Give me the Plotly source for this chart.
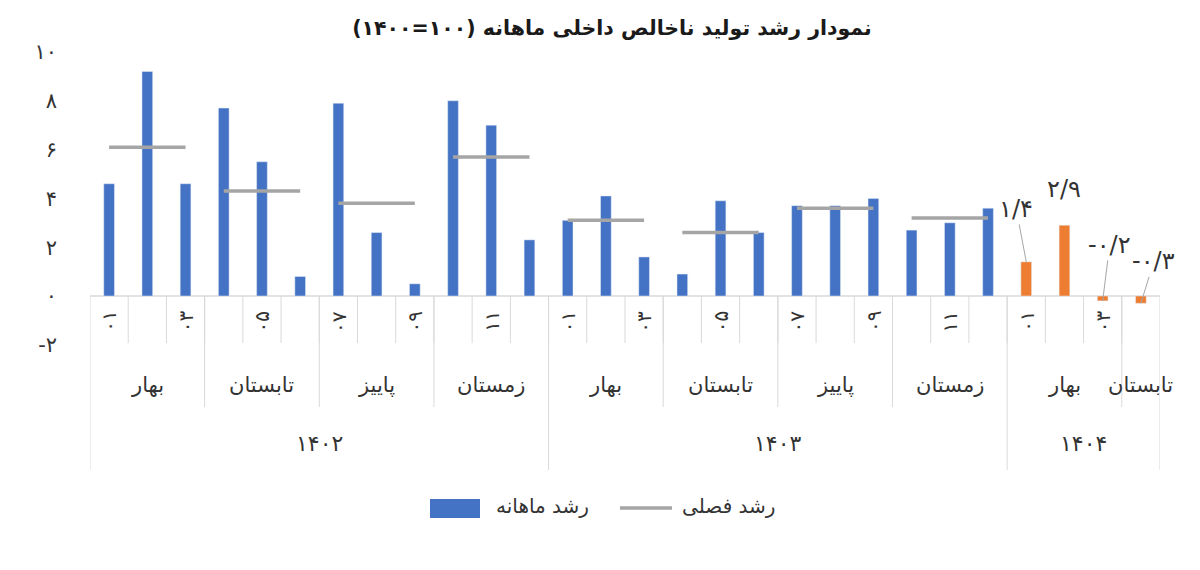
import plotly.graph_objects as go

# ---------------- data ----------------
years = ["۱۴۰۲", "۱۴۰۳", "۱۴۰۴"]
seasons = ["بهار", "تابستان", "پاییز", "زمستان"]
month_labels = ["۰۱", "۰۲", "۰۳", "۰۴", "۰۵", "۰۶", "۰۷", "۰۸", "۰۹", "۱۰", "۱۱", "۱۲"]

monthly_1402 = [4.6, 9.2, 4.6, 7.7, 5.5, 0.8, 7.9, 2.6, 0.5, 8.0, 7.0, 2.3]
monthly_1403 = [3.1, 4.1, 1.6, 0.9, 3.9, 2.6, 3.7, 3.7, 4.0, 2.7, 3.0, 3.6]
monthly_1404 = [1.4, 2.9, -0.2, -0.3]
monthly_1404_text = ["۱/۴", "۲/۹", "-۰/۲", "-۰/۳"]

seasonal_1402 = [6.1, 4.3, 3.8, 5.7]
seasonal_1403 = [3.1, 2.6, 3.6, 3.2]

y_ticks = [-2, 0, 2, 4, 6, 8, 10]
y_tick_text = ["-۲", "۰", "۲", "۴", "۶", "۸", "۱۰"]

title_text = "نمودار رشد تولید ناخالص داخلی ماهانه (۱۰۰=۱۴۰۰)"
name_monthly = "رشد ماهانه"
name_seasonal = "رشد فصلی"

# ---------------- styles / layout ----------------
BLUE = "#4472C4"
ORANGE = "#ED7D31"
GRAY = "#A5A5A5"
DIV = "#D9D9D9"
TXT = "#333333"
FONT = "DejaVu Sans"
W, H = 1192, 562          # page body has an 8px margin
ML, MR, MT, MB = 82, 40, 32, 100
Y_RANGE = [-7.13, 10.49]
MONTH_ROW_BOTTOM = -1.93
SEASON_ROW_BOTTOM = -4.55
MONTH_LABEL_Y = -1.05
SEASON_LABEL_Y = -3.63
YEAR_LABEL_Y = -6.04
label_offsets = [(-10, -53), None, (7, -56), (13, -42)]  # leader-line offsets (px)


def px_x(px):  # screenshot x pixel -> paper fraction
    return (px - 8 - ML) / (W - ML - MR)


def px_y(py):  # screenshot y pixel -> paper fraction
    return (H - MB - (py - 8)) / (H - MT - MB)


# ---------------- build category positions ----------------
year_monthly = [monthly_1402, monthly_1403, monthly_1404]
year_seasonal = [seasonal_1402, seasonal_1403, []]

records = []
x = 0
for yi, vals in enumerate(year_monthly):
    for mi, v in enumerate(vals):
        records.append((x, yi, mi, v))
        x += 1
n_total = x

fig = go.Figure()

bx = [r[0] for r in records if r[1] < 2]
by = [r[3] for r in records if r[1] < 2]
fig.add_trace(go.Bar(x=bx, y=by, name=name_monthly, marker_color=BLUE, width=0.28,
                     showlegend=False))

sx, sy = [], []
for yi, svals in enumerate(year_seasonal):
    base = sum(len(v) for v in year_monthly[:yi])
    for si, sv in enumerate(svals):
        sx += [base + 3 * si, base + 3 * si + 1, base + 3 * si + 2, None]
        sy += [sv, sv, sv, None]
fig.add_trace(go.Scatter(x=sx, y=sy, mode="lines", name=name_seasonal,
                         line=dict(color=GRAY, width=3.5), connectgaps=False,
                         showlegend=False))

ox = [r[0] for r in records if r[1] == 2]
oy = [r[3] for r in records if r[1] == 2]
fig.add_trace(go.Bar(x=ox, y=oy, marker_color=ORANGE, width=0.28, showlegend=False))

annotations = []
shapes = []

# data labels for 1404
for (xx, yy, txt, off) in zip(ox, oy, monthly_1404_text, label_offsets):
    if off is None:
        annotations.append(dict(x=xx, y=yy, xref="x", yref="y", text=txt, showarrow=False,
                                yshift=36, font=dict(size=24, color=TXT, family=FONT)))
    else:
        annotations.append(dict(x=xx, y=yy, xref="x", yref="y", text=txt, showarrow=True,
                                ax=off[0], ay=off[1], arrowhead=0, arrowwidth=1,
                                arrowcolor="#A6A6A6", standoff=0,
                                font=dict(size=24, color=TXT, family=FONT)))

# month labels (every other category)
for (xx, yi, mi, v) in records:
    if xx % 2 == 0:
        annotations.append(dict(x=xx, y=MONTH_LABEL_Y, xref="x", yref="y", text=month_labels[mi],
                                showarrow=False, textangle=-90,
                                font=dict(size=20, color=TXT, family=FONT)))

# season / year labels and dividers
start = 0
for yi, vals in enumerate(year_monthly):
    n = len(vals)
    for si in range((n + 2) // 3):
        s0 = start + 3 * si
        s1 = min(start + 3 * si + 3, start + n)
        annotations.append(dict(x=(s0 + s1 - 1) / 2, y=SEASON_LABEL_Y,
                                xref="x", yref="y", text=seasons[si], showarrow=False,
                                font=dict(size=21, color=TXT, family=FONT)))
        if si > 0:
            shapes.append(dict(type="line", xref="x", yref="y", x0=s0 - 0.5, x1=s0 - 0.5,
                               y0=0, y1=SEASON_ROW_BOTTOM, line=dict(color=DIV, width=1)))
    annotations.append(dict(x=start + (n - 1) / 2, y=YEAR_LABEL_Y,
                            xref="x", yref="y", text=years[yi], showarrow=False,
                            font=dict(size=22, color=TXT, family=FONT)))
    shapes.append(dict(type="line", xref="x", yref="y", x0=start - 0.5, x1=start - 0.5,
                       y0=0, y1=Y_RANGE[0], line=dict(color=DIV, width=1)))
    start += n
shapes.append(dict(type="line", xref="x", yref="y", x0=n_total - 0.5, x1=n_total - 0.5,
                   y0=0, y1=Y_RANGE[0], line=dict(color=DIV, width=1)))
for k in range(1, n_total):
    shapes.append(dict(type="line", xref="x", yref="y", x0=k - 0.5, x1=k - 0.5,
                       y0=0, y1=MONTH_ROW_BOTTOM, line=dict(color=DIV, width=1)))
shapes.append(dict(type="line", xref="x", yref="y", x0=-0.5, x1=n_total - 0.5, y0=0, y1=0,
                   line=dict(color=DIV, width=1.5), layer="below"))

# custom legend (wide swatches as in the reference)
shapes.append(dict(type="rect", xref="paper", yref="paper",
                   x0=px_x(430), x1=px_x(480), y0=px_y(518), y1=px_y(499),
                   fillcolor=BLUE, line=dict(width=0)))
annotations.append(dict(x=px_x(591), y=px_y(506), xref="paper", yref="paper",
                        xanchor="right", yanchor="middle",
                        text=name_monthly, showarrow=False,
                        font=dict(size=20, color=TXT, family=FONT)))
shapes.append(dict(type="line", xref="paper", yref="paper",
                   x0=px_x(620), x1=px_x(672), y0=px_y(508), y1=px_y(508),
                   line=dict(color=GRAY, width=3.5)))
annotations.append(dict(x=px_x(777), y=px_y(506), xref="paper", yref="paper",
                        xanchor="right", yanchor="middle",
                        text=name_seasonal, showarrow=False,
                        font=dict(size=20, color=TXT, family=FONT)))

fig.update_layout(
    width=W, height=H,
    margin=dict(l=ML, r=MR, t=MT, b=MB, autoexpand=False),
    paper_bgcolor="white", plot_bgcolor="white",
    font=dict(family=FONT, color=TXT),
    title=dict(text="\u202b" + title_text + "\u202c", x=(612 - 8) / W, xanchor="center",
               y=1 - (28 - 8) / H, yanchor="middle",
               font=dict(size=20.5, color="#1a1a1a", family=FONT, weight="bold")),
    barmode="overlay",
    showlegend=False,
    xaxis=dict(range=[-0.5, n_total - 0.5], showticklabels=False, showgrid=False,
               zeroline=False, showline=False, ticks="", automargin=False),
    yaxis=dict(range=Y_RANGE, tickvals=y_ticks, ticktext=y_tick_text, showgrid=False,
               zeroline=False, showline=False, ticks="", ticklabelstandoff=32,
               automargin=False, tickfont=dict(size=21, color=TXT, family=FONT)),
    annotations=annotations,
    shapes=shapes,
)

fig.write_html("out.html")
